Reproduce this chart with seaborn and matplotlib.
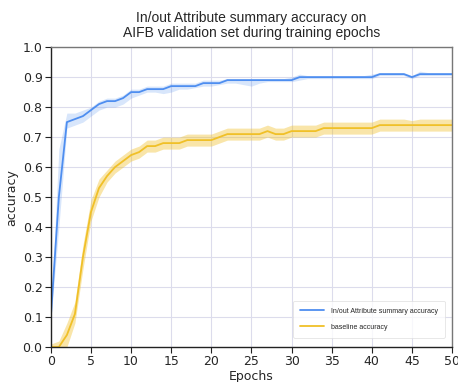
import matplotlib
matplotlib.use("Agg")
import matplotlib.pyplot as plt
import seaborn as sns
import pandas as pd
import numpy as np

epochs = list(range(51))

ours_mean = [0.10, 0.50, 0.75, 0.76, 0.77, 0.79, 0.81, 0.82, 0.82, 0.83,
             0.85, 0.85, 0.86, 0.86, 0.86, 0.87, 0.87, 0.87, 0.87, 0.88,
             0.88, 0.88, 0.89, 0.89, 0.89, 0.89, 0.89, 0.89, 0.89, 0.89,
             0.89, 0.90, 0.90, 0.90, 0.90, 0.90, 0.90, 0.90, 0.90, 0.90,
             0.90, 0.91, 0.91, 0.91, 0.91, 0.90, 0.91, 0.91, 0.91, 0.91, 0.91]
ours_low = [0.09, 0.40, 0.73, 0.74, 0.75, 0.77, 0.79, 0.80, 0.80, 0.81,
            0.83, 0.84, 0.85, 0.85, 0.845, 0.85, 0.86, 0.86, 0.865, 0.87,
            0.87, 0.875, 0.88, 0.88, 0.875, 0.87, 0.88, 0.885, 0.885, 0.885,
            0.885, 0.89, 0.895, 0.895, 0.895, 0.895, 0.895, 0.895, 0.895, 0.895,
            0.895, 0.905, 0.905, 0.905, 0.905, 0.895, 0.905, 0.905, 0.905, 0.905, 0.905]
ours_high = [0.11, 0.66, 0.78, 0.78, 0.79, 0.80, 0.82, 0.83, 0.83, 0.84,
             0.86, 0.86, 0.87, 0.87, 0.87, 0.88, 0.88, 0.88, 0.88, 0.89,
             0.89, 0.89, 0.895, 0.895, 0.895, 0.895, 0.895, 0.895, 0.895, 0.895,
             0.90, 0.91, 0.905, 0.905, 0.905, 0.905, 0.905, 0.905, 0.905, 0.905,
             0.91, 0.915, 0.915, 0.915, 0.915, 0.905, 0.92, 0.915, 0.915, 0.915, 0.915]

base_mean = [0.00, 0.00, 0.04, 0.11, 0.30, 0.45, 0.53, 0.57, 0.60, 0.62,
             0.64, 0.65, 0.67, 0.67, 0.68, 0.68, 0.68, 0.69, 0.69, 0.69,
             0.69, 0.70, 0.71, 0.71, 0.71, 0.71, 0.71, 0.72, 0.71, 0.71,
             0.72, 0.72, 0.72, 0.72, 0.73, 0.73, 0.73, 0.73, 0.73, 0.73,
             0.73, 0.74, 0.74, 0.74, 0.74, 0.74, 0.74, 0.74, 0.74, 0.74, 0.74]
base_low = [0.00, 0.00, 0.00, 0.08, 0.26, 0.42, 0.50, 0.55, 0.58, 0.60,
            0.62, 0.63, 0.65, 0.65, 0.66, 0.66, 0.66, 0.67, 0.67, 0.67,
            0.67, 0.68, 0.69, 0.69, 0.69, 0.69, 0.69, 0.70, 0.69, 0.69,
            0.70, 0.70, 0.70, 0.70, 0.71, 0.71, 0.71, 0.71, 0.71, 0.71,
            0.71, 0.72, 0.72, 0.72, 0.72, 0.72, 0.72, 0.72, 0.72, 0.72, 0.72]
base_high = [0.01, 0.02, 0.08, 0.15, 0.34, 0.49, 0.56, 0.59, 0.62, 0.64,
             0.66, 0.67, 0.69, 0.69, 0.70, 0.70, 0.70, 0.71, 0.71, 0.71,
             0.71, 0.72, 0.73, 0.73, 0.73, 0.73, 0.73, 0.74, 0.73, 0.73,
             0.74, 0.74, 0.74, 0.74, 0.75, 0.75, 0.75, 0.75, 0.75, 0.75,
             0.75, 0.76, 0.76, 0.76, 0.76, 0.755, 0.76, 0.76, 0.76, 0.76, 0.76]

labels = ["In/out Attribute summary accuracy", "baseline accuracy"]
colors = ["#4e8ef0", "#f0c028"]

sns.set_theme(style="whitegrid")
plt.rcParams["font.family"] = ["DejaVu Sans"]

fig = plt.figure(figsize=(4.58, 3.82), dpi=100)
ax = fig.add_axes([0.111, 0.0916, 0.876, 0.785])
ax.set_facecolor("white")

df = pd.DataFrame({
    "epoch": epochs * 2,
    "acc": ours_mean + base_mean,
    "series": [labels[0]] * len(epochs) + [labels[1]] * len(epochs),
})
sns.lineplot(data=df, x="epoch", y="acc", hue="series", palette=colors,
             ax=ax, linewidth=1.3)
ax.fill_between(epochs, ours_low, ours_high, color=colors[0], alpha=0.22, linewidth=0)
ax.fill_between(epochs, base_low, base_high, color=colors[1], alpha=0.4, linewidth=0)

ax.set_xlim(0, 50)
ax.set_ylim(0, 1.0)
ax.set_xticks(range(0, 51, 5))
ax.set_yticks(np.round(np.arange(0, 1.01, 0.1), 1))
ax.grid(True, color="#dcdcec", linewidth=0.8)
for s in ["left", "bottom"]:
    ax.spines[s].set_color("#222222")
    ax.spines[s].set_linewidth(1.0)
for s in ["top", "right"]:
    ax.spines[s].set_color("#777777")
    ax.spines[s].set_linewidth(1.0)
ax.tick_params(axis="both", which="both", direction="out", length=4, width=0.8,
               color="#222222", labelsize=9, pad=2, bottom=True, left=True)
ax.set_xlabel("Epochs", fontsize=9, labelpad=1)
ax.set_ylabel("accuracy", fontsize=9, labelpad=3)
ax.set_title("In/out Attribute summary accuracy on\nAIFB validation set during training epochs",
             fontsize=10, family=["Liberation Sans", "DejaVu Sans"], pad=7, linespacing=1.1)

leg = ax.legend(loc="lower right", frameon=True, handlelength=3.4,
                prop={"family": ["Liberation Sans", "DejaVu Sans"], "size": 5},
                borderpad=1.0, labelspacing=1.3, handletextpad=1.0,
                bbox_to_anchor=(0.99, 0.02))
leg.get_frame().set_edgecolor("#dddddd")
leg.get_frame().set_linewidth(0.6)
leg.set_title(None)

fig.savefig("out.png", dpi=100)
